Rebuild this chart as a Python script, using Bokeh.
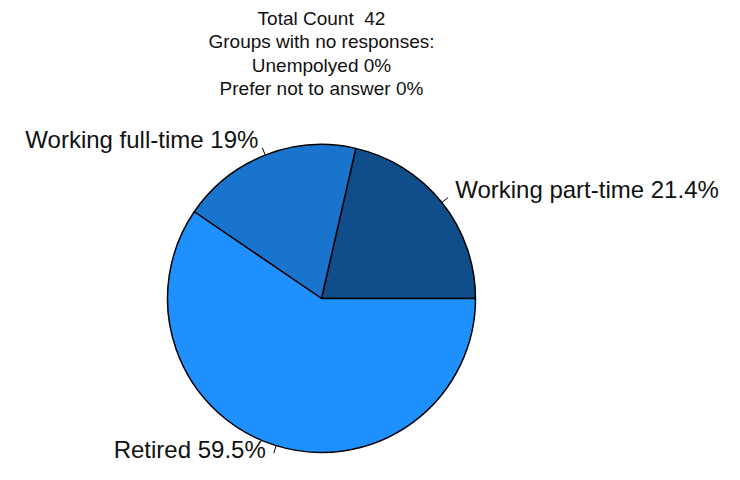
import math
from bokeh.plotting import figure
from bokeh.models import Range1d, ColumnDataSource
from bokeh.core.properties import value
from bokeh.embed import file_html
from bokeh.resources import INLINE

# ---- data ----
categories = ["Working part-time", "Working full-time", "Retired"]
counts = [9, 8, 25]
pct_labels = ["21.4%", "19%", "59.5%"]
colors = ["#104E8B", "#1874CD", "#1E90FF"]
title_lines = ["Total Count \u00a042", "Groups with no responses:", "Unempolyed 0%", "Prefer not to answer 0%"]

total = sum(counts)

W, H = 724, 464
TOP = 480
p = figure(width=W, height=H, output_backend="svg", toolbar_location=None,
           x_range=Range1d(0, W), y_range=Range1d(TOP - H, TOP),
           min_border=0)
p.axis.visible = False
p.grid.visible = False
p.outline_line_color = None
p.background_fill_color = "white"

def Y(py):
    return TOP - py

cx, cy, r = 321, Y(298), 154

starts, ends = [], []
acc = 0.0
for c in counts:
    starts.append(2 * math.pi * acc / total)
    acc += c
    ends.append(2 * math.pi * acc / total)

src = ColumnDataSource(dict(start=starts, end=ends, color=colors, cat=categories))
p.wedge(x=cx, y=cy, radius=r, start_angle="start", end_angle="end", fill_color="color",
        line_color="black", line_width=1.5, source=src)

# ticks and labels
tx0, ty0, tx1, ty1 = [], [], [], []
labels = []
for cat, lab, s, e in zip(categories, pct_labels, starts, ends):
    m = (s + e) / 2
    ca, sa = math.cos(m), math.sin(m)
    x0, y0 = cx + r * ca, cy + r * sa
    x1, y1 = cx + (r + 8) * ca, cy + (r + 8) * sa
    tx0.append(x0); ty0.append(y0); tx1.append(x1); ty1.append(y1)
    if sa >= 0:
        ly = y1 + 8
        dx = 4
    else:
        ly = max(y1 - 9, Y(449))
        dx = 8
    if ca >= 0:
        lx, la = x1 + 7, "left"
    else:
        lx, la = x1 - dx, "right"
    labels.append((lx, ly, f"{cat} {lab}", la))

p.segment(x0=tx0, y0=ty0, x1=tx1, y1=ty1, line_color="black", line_width=1)
for x, y, t, a in labels:
    p.text(x=[x], y=[y], text=[t], text_align=a, text_baseline="middle",
           text_font=value("Liberation Sans"), text_font_size="24px", text_color="#111111")

# title lines
for i, t in enumerate(title_lines):
    p.text(x=[cx], y=[Y(17.5 + i * 23.6)], text=[t], text_align="center", text_baseline="middle",
           text_font=value("Liberation Sans"), text_font_size="19px", text_color="#111111")

open("out.html", "w").write(file_html(p, INLINE))
